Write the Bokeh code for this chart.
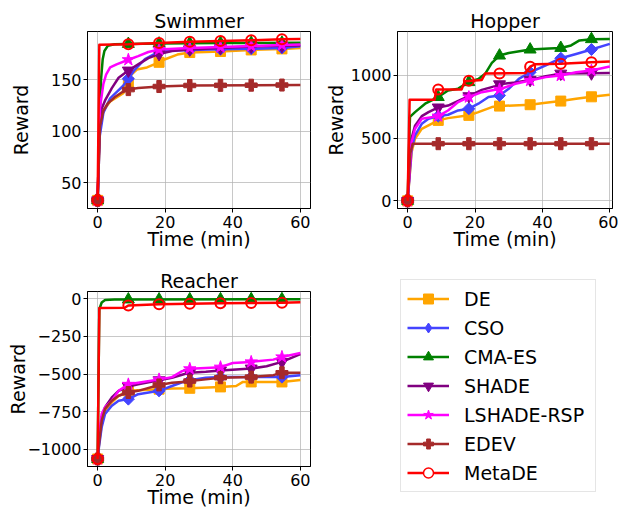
import numpy as np
from bokeh.plotting import figure
from bokeh.layouts import row, column
from bokeh.models import Range1d, FixedTicker, Legend, LegendItem
from bokeh.embed import file_html
from bokeh.resources import INLINE

FONT = "DejaVu Sans"

ALGOS = ["DE", "CSO", "CMA-ES", "SHADE", "LSHADE-RSP", "EDEV", "MetaDE"]
COLORS = ["#ffa500", "#4444ff", "#008000", "#800080", "#ff00ff", "#a52a2a", "#ff0000"]
MARK_T = [0, 9.09, 18.18, 27.27, 36.36, 45.45, 54.55]

# ---------------- Swimmer ----------------
SW_DE_T = [0, 0.6, 1.7, 3.7, 5.6, 7.6, 9.09, 10, 11.6, 14.6, 18.18, 20, 23.6, 27.27, 36.36, 45.45, 54.55, 60]
SW_DE_V = [33, 100, 120, 129, 133, 137, 147.5, 155, 160, 162, 167, 170, 174.5, 176.5, 177.5, 179, 180, 181]
SW_CSO_T = [0, 0.6, 1.7, 3.7, 5.6, 7.5, 9.09, 11, 14, 18.18, 22, 27.27, 36.36, 45.45, 54.55, 60]
SW_CSO_V = [33, 95, 118, 132, 138, 144, 151, 160, 170, 177.5, 178.5, 179, 179.7, 180.2, 181, 182.5]
SW_CMA_T = [0, 0.5, 1, 1.5, 2, 3, 5, 9.09, 18.18, 27.27, 36.36, 60]
SW_CMA_V = [33, 100, 150, 170, 178, 183, 184.5, 184.8, 185.2, 185.5, 185.7, 186]
SW_SHADE_T = [0, 0.6, 1.2, 2.2, 4.2, 6.2, 9.09, 12, 15, 18.18, 22, 27.27, 36.36, 45.45, 54.55, 60]
SW_SHADE_V = [33, 110, 122, 130, 142, 152, 159, 165, 171, 175, 178, 179.5, 181, 182.3, 183, 183.3]
SW_LSH_T = [0, 0.7, 1.7, 2.5, 3.7, 5.6, 9.09, 12, 15, 18.18, 27.27, 36.36, 45.45, 54.55, 60]
SW_LSH_V = [33, 123, 146, 155, 162, 165, 169.5, 173, 177, 179.5, 181, 181.8, 182.8, 183.8, 184.3]
SW_EDEV_T = [0, 0.7, 1.7, 3, 5, 7, 9.09, 12, 18.18, 27.27, 60]
SW_EDEV_V = [33, 105, 120, 127, 133, 137.5, 140.5, 142, 143.5, 144.5, 145]
SW_META_T = [0, 0.5, 9.09, 18.18, 27.27, 36.36, 45.45, 54.55, 60]
SW_META_V = [33, 184, 184.5, 185.8, 187, 187.7, 188.4, 189.3, 189.7]

# ---------------- Hopper ----------------
HO_DE_T = [0, 1.2, 2.2, 4.2, 6.2, 9.09, 12, 18.18, 21, 25, 27.27, 36.36, 41, 45.45, 50, 54.55, 60]
HO_DE_V = [0, 390, 496, 575, 602, 642, 660, 682, 708, 748, 756, 767, 782, 796, 814, 830, 846]
HO_CSO_T = [0, 1.2, 2.2, 4.2, 6.2, 9.09, 12, 15, 18.18, 21, 24, 27.27, 30, 33, 36.36, 41, 45.45, 50, 54.55, 60]
HO_CSO_V = [0, 416, 522, 615, 655, 676, 687, 721, 735, 775, 828, 841, 894, 973, 1026, 1080, 1138, 1172, 1207, 1252]
HO_CMA_T = [0, 0.7, 2.2, 5.2, 9.09, 12, 15, 18.18, 21, 23, 25, 27.27, 30, 36.36, 42, 45.45, 48.5, 51, 54.55, 60]
HO_CMA_V = [0, 670, 708, 775, 828, 880, 895, 947, 973, 1013, 1100, 1159, 1180, 1207, 1215, 1220, 1240, 1280, 1290, 1292]
HO_SHADE_T = [0, 1.2, 2.2, 4.2, 6.2, 9.09, 12, 16, 18.18, 22, 26, 27.27, 32, 36.36, 41, 45.45, 54.55, 60]
HO_SHADE_V = [0, 500, 600, 676, 708, 745, 760, 810, 835, 885, 915, 930, 945, 965, 995, 1015, 1017, 1020]
HO_LSH_T = [0, 1.2, 2.2, 4.2, 9.09, 12, 15, 18.18, 22, 26, 27.27, 32, 36.36, 41, 45.45, 50, 54.55, 60]
HO_LSH_V = [0, 470, 575, 655, 676, 721, 788, 828, 867, 886, 889, 934, 960, 987, 1000, 1026, 1040, 1072]
HO_EDEV_T = [0, 0.8, 1.5, 60]
HO_EDEV_V = [0, 380, 456, 456]
HO_META_T = [0, 0.6, 8, 8.5, 16, 17, 22, 23, 35, 36.36, 38, 45.45, 54.55, 60]
HO_META_V = [0, 806, 806, 889, 889, 955, 965, 1015, 1020, 1070, 1090, 1093, 1105, 1112]

# ---------------- Reacher ----------------
RE_DE_T = [0, 0.4, 1.2, 2.2, 4.2, 6.2, 9.09, 12, 18.18, 22, 27.27, 36.36, 41, 43, 45.45, 54.55, 60]
RE_DE_V = [-1063, -972, -830, -742, -688, -644, -611, -607, -600, -596, -594, -585, -579, -552, -552, -552, -539]
RE_CSO_T = [0, 0.4, 1.2, 2.2, 4.2, 6.2, 9.09, 12, 18.18, 22, 26, 27.27, 32, 36.36, 45.45, 54.55, 60]
RE_CSO_V = [-1063, -983, -852, -764, -710, -677, -666, -633, -611, -579, -546, -541, -524, -520, -520, -520, -507]
RE_CMA_T = [0, 0.5, 1.2, 2.2, 5, 60]
RE_CMA_V = [-1063, -70, -25, -8, -5, -3]
RE_SHADE_T = [0, 0.4, 1.2, 2.2, 4.2, 6.2, 9.09, 12, 18.18, 22, 26, 27.27, 32, 36.36, 41, 45.45, 50, 54.55, 60]
RE_SHADE_V = [-1063, -939, -786, -720, -655, -611, -583, -568, -541, -524, -498, -491, -485, -476, -469, -463, -448, -419, -367]
RE_LSH_T = [0, 0.4, 1.2, 2.2, 4.2, 6.2, 9.09, 12, 18.18, 22, 25, 27.27, 32, 36.36, 40, 45.45, 52, 54.55, 60]
RE_LSH_V = [-1063, -917, -764, -720, -677, -611, -568, -557, -535, -520, -480, -465, -459, -454, -426, -419, -404, -386, -360]
RE_EDEV_T = [0, 0.4, 1.2, 2.2, 4.2, 6.2, 9.09, 12, 18.18, 22, 26, 27.27, 32, 36.36, 45.45, 52, 54.55, 60]
RE_EDEV_V = [-1063, -961, -808, -731, -677, -644, -622, -611, -572, -557, -550, -546, -535, -524, -520, -507, -491, -491]
RE_META_T = [0, 0.5, 8, 9.09, 18.18, 27.27, 36.36, 45.45, 54.55, 60]
RE_META_V = [-1063, -62, -60, -45, -36, -34, -30, -28, -27, -24]

X_TICKS = [0, 20, 40, 60]
SW_Y_TICKS = [50, 100, 150]
HO_Y_TICKS = [0, 500, 1000]
RE_Y_TICKS = [-1000, -750, -500, -250, 0]
RE_Y_LABELS = {-1000: "\u22121000", -750: "\u2212750", -500: "\u2212500", -250: "\u2212250", 0: "0"}

MARKER_STYLE = [
    dict(marker="square", size=10, angle=0.0),
    dict(marker="square", size=8.5, angle=np.pi / 4),
    dict(marker="triangle", size=12, angle=0.0),
    dict(marker="inverted_triangle", size=12, angle=0.0),
    dict(marker="star", size=13, angle=0.0),
    dict(marker="plus", size=12, angle=0.0),
    dict(marker="circle", size=10, angle=0.0),
]
LEGEND_MARKERS = ["square", "diamond", "triangle", "inverted_triangle", "star", "plus", "circle"]


def make_panel(title, series, xr, yr, yticks, w, h, bl, br, bt, bb, ylab_standoff, overrides=None):
    p = figure(width=w, height=h, x_range=Range1d(*xr), y_range=Range1d(*yr),
               output_backend="svg", toolbar_location=None, title=title,
               min_border_left=bl, min_border_right=br, min_border_top=bt, min_border_bottom=bb)
    p.background_fill_color = "white"
    p.border_fill_color = "white"
    p.outline_line_color = "black"
    p.outline_line_width = 1
    p.outline_line_alpha = 1
    p.title.text_font = FONT
    p.title.text_font_size = "19px"
    p.title.text_font_style = "normal"
    p.title.text_color = "black"
    p.title.align = "center"
    p.title.standoff = 0
    p.title.offset = 0
    p.xaxis.ticker = FixedTicker(ticks=X_TICKS)
    p.yaxis.ticker = FixedTicker(ticks=yticks)
    if overrides:
        p.yaxis.major_label_overrides = overrides
    p.xaxis.axis_label = "Time (min)"
    p.yaxis.axis_label = "Reward"
    for ax in (p.xaxis, p.yaxis):
        ax.axis_label_text_font = FONT
        ax.axis_label_text_font_size = "19px"
        ax.axis_label_text_font_style = "normal"
        ax.axis_label_text_color = "black"
        ax.major_label_text_font = FONT
        ax.major_label_text_font_size = "16px"
        ax.major_label_text_color = "black"
        ax.major_tick_out = 4
        ax.major_tick_in = 0
        ax.minor_tick_out = 0
        ax.minor_tick_in = 0
        ax.major_tick_line_color = "black"
        ax.axis_line_color = "black"
    p.xaxis.major_label_standoff = 3
    p.xaxis.axis_label_standoff = -3
    p.yaxis.major_label_standoff = 2
    p.yaxis.axis_label_standoff = ylab_standoff
    p.grid.grid_line_color = "#b0b0b0"
    p.grid.grid_line_alpha = 0.7
    p.grid.grid_line_width = 1
    for i, (t, v) in enumerate(series):
        c = COLORS[i]
        p.line(t, v, line_color=c, line_width=2.5, line_join="round")
        my = np.interp(MARK_T, t, v)
        ms = MARKER_STYLE[i]
        if ms["marker"] == "circle":
            p.scatter(MARK_T, my, marker="circle", size=ms["size"], line_color=c,
                      line_width=2, fill_color=None)
        else:
            p.scatter(MARK_T, my, marker=ms["marker"], size=ms["size"], angle=ms["angle"],
                      line_color=c, fill_color=c, line_width=1)
    return p


sw_series = [(SW_DE_T, SW_DE_V), (SW_CSO_T, SW_CSO_V), (SW_CMA_T, SW_CMA_V), (SW_SHADE_T, SW_SHADE_V),
             (SW_LSH_T, SW_LSH_V), (SW_EDEV_T, SW_EDEV_V), (SW_META_T, SW_META_V)]
ho_series = [(HO_DE_T, HO_DE_V), (HO_CSO_T, HO_CSO_V), (HO_CMA_T, HO_CMA_V), (HO_SHADE_T, HO_SHADE_V),
             (HO_LSH_T, HO_LSH_V), (HO_EDEV_T, HO_EDEV_V), (HO_META_T, HO_META_V)]
re_series = [(RE_DE_T, RE_DE_V), (RE_CSO_T, RE_CSO_V), (RE_CMA_T, RE_CMA_V), (RE_SHADE_T, RE_SHADE_V),
             (RE_LSH_T, RE_LSH_V), (RE_EDEV_T, RE_EDEV_V), (RE_META_T, RE_META_V)]

p1 = make_panel("Swimmer", sw_series, (-3, 63), (25.1, 196.9), SW_Y_TICKS,
                320, 262, 87, 10, 31, 54, 16)
p2 = make_panel("Hopper", ho_series, (-3, 60.8), (-61, 1351), HO_Y_TICKS,
                298, 262, 77, 6, 31, 54, 1)
p3 = make_panel("Reacher", re_series, (-3, 63), (-1113, 48), RE_Y_TICKS,
                320, 248, 87, 10, 29, 42, -5, overrides=RE_Y_LABELS)

# legend panel (key glyphs only; NaN placeholders draw nothing in the plot area)
p4 = figure(width=298, height=248, x_range=Range1d(0, 1), y_range=Range1d(0, 1),
            output_backend="svg", toolbar_location=None, x_axis_type=None, y_axis_type=None,
            min_border_left=77, min_border_right=6, min_border_top=0, min_border_bottom=0)
p4.outline_line_color = None
p4.background_fill_color = "white"
p4.border_fill_color = "white"
items = []
for i, name in enumerate(ALGOS):
    c = COLORS[i]
    lr = p4.line([np.nan], [np.nan], line_color=c, line_width=2.5)
    if LEGEND_MARKERS[i] == "circle":
        sr = p4.scatter([np.nan], [np.nan], marker="circle", line_color=c, line_width=1.5,
                        fill_color="white")
    else:
        sr = p4.scatter([np.nan], [np.nan], marker=LEGEND_MARKERS[i], line_color=c, fill_color=c)
    items.append(LegendItem(label=name, renderers=[lr, sr]))
legend = Legend(items=items, location=(3, 18))
legend.label_text_font = FONT
legend.label_text_font_size = "19px"
legend.label_text_color = "black"
legend.glyph_width = 42
legend.glyph_height = 25
legend.label_height = 25
legend.label_width = 125
legend.spacing = 4
legend.padding = 6
legend.margin = 0
legend.label_standoff = 15
legend.border_line_color = "#cccccc"
legend.border_line_width = 1
legend.background_fill_color = "white"
legend.background_fill_alpha = 0.8
p4.add_layout(legend, "center")

layout = row(column(p1, p3), column(p2, p4))
open("out.html", "w").write(file_html(layout, INLINE))
